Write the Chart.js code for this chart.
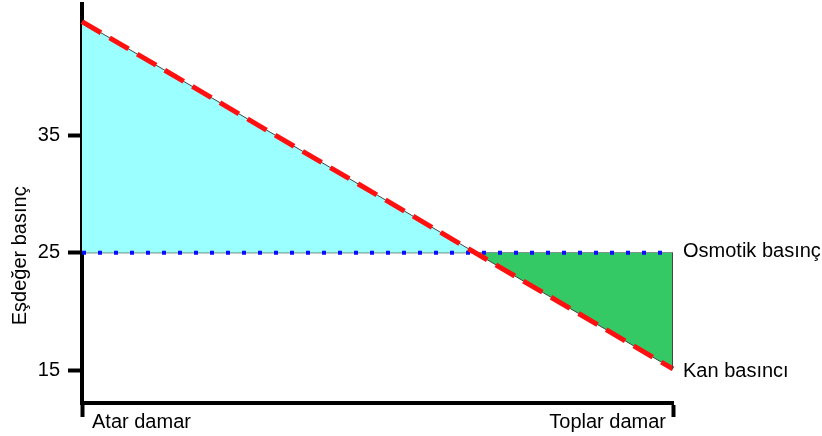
<!DOCTYPE html>
<html>
<head>
<meta charset="utf-8">
<script src="https://cdn.jsdelivr.net/npm/chart.js@4"></script>
<style>
  html, body { margin: 0; padding: 0; background: #fff; }
</style>
</head>
<body>
<canvas id="chart" width="822" height="436"></canvas>
<script>
// Values
const vessels = ['Atar damar', 'Toplar damar'];
const bloodPressure = [44.7, 15.1];
const osmoticPressure = [25, 25];
const yTicks = [15, 25, 35];
const seriesNames = ['Kan basıncı', 'Osmotik basınç'];
const yTitle = 'Eşdeğer basınç';

const FONT = '"Liberation Sans", Arial, sans-serif';

// line-end labels, axis texts and the right edge of the green area
const annotate = {
    id: 'annotate',
    afterDatasetsDraw(chart) {
        const ctx = chart.ctx;
        const x = chart.scales.x;
        const y = chart.scales.y;
        const last = vessels.length - 1;
        const xl = x.getPixelForValue(0);
        const xr = x.getPixelForValue(last);

        // closing edge of the polygon
        ctx.save();
        ctx.strokeStyle = '#444';
        ctx.lineWidth = 1;
        ctx.beginPath();
        ctx.moveTo(xr - 0.5, y.getPixelForValue(osmoticPressure[last]));
        ctx.lineTo(xr - 0.5, y.getPixelForValue(bloodPressure[last]));
        ctx.stroke();
        ctx.restore();

        ctx.save();
        ctx.font = '20px ' + FONT;
        ctx.fillStyle = '#000';
        ctx.textBaseline = 'middle';
        ctx.textAlign = 'left';
        ctx.fillText(seriesNames[1], xr + 10, y.getPixelForValue(osmoticPressure[last]) - 1);
        ctx.fillText(seriesNames[0], xr + 10, y.getPixelForValue(bloodPressure[last]) + 3);

        // category names beside the end ticks
        ctx.textBaseline = 'alphabetic';
        const base = chart.chartArea.bottom + 25;
        ctx.fillText(vessels[0], xl + 10, base);
        ctx.textAlign = 'right';
        ctx.fillText(vessels[last], xr - 7, base);

        // y axis title, sits near the 25 level
        ctx.textBaseline = 'middle';
        ctx.translate(20, y.getPixelForValue(24.74));
        ctx.rotate(-Math.PI / 2);
        ctx.textAlign = 'center';
        ctx.fillText(yTitle, 0, 0);
        ctx.restore();
    }
};

new Chart(document.getElementById('chart'), {
    type: 'line',
    data: {
        labels: vessels,
        datasets: [
            {
                label: seriesNames[0],
                data: bloodPressure,
                borderColor: '#ff1010',
                borderWidth: 5,
                borderDash: [22, 10],
                pointRadius: 0,
                fill: false
            },
            {
                label: seriesNames[1],
                data: osmoticPressure,
                borderColor: '#0c0cff',
                borderWidth: 4,
                borderDash: [4, 12],
                borderCapStyle: 'butt',
                pointRadius: 0,
                fill: false
            },
            {
                // area between the two curves, with thin outline
                data: bloodPressure,
                borderColor: '#444',
                borderWidth: 1,
                pointRadius: 0,
                fill: { target: 3, above: '#9cffff', below: '#35c965' }
            },
            {
                data: osmoticPressure,
                borderColor: '#444',
                borderWidth: 1,
                pointRadius: 0,
                fill: false
            }
        ]
    },
    options: {
        responsive: false,
        animation: false,
        layout: { padding: { top: 4, right: 149, left: 0, bottom: 0 } },
        plugins: {
            legend: { display: false },
            tooltip: { enabled: false }
        },
        scales: {
            x: {
                type: 'category',
                offset: false,
                border: { display: true, color: '#000', width: 4 },
                grid: {
                    drawOnChartArea: false,
                    drawTicks: true,
                    tickLength: 14,
                    tickWidth: 4,
                    tickColor: '#000'
                },
                ticks: { display: false },
                afterFit(scale) {
                    scale.height = 33;
                    scale.paddingLeft = 0;
                    scale.paddingRight = 0;
                }
            },
            y: {
                min: 12.2,
                max: 46.2,
                border: { display: true, color: '#000', width: 4 },
                grid: {
                    drawOnChartArea: false,
                    drawTicks: true,
                    tickLength: 14,
                    tickWidth: 4,
                    tickColor: '#000'
                },
                ticks: {
                    padding: 8,
                    color: '#000',
                    font: { family: FONT, size: 20 }
                },
                afterBuildTicks(scale) {
                    scale.ticks = yTicks.map(v => ({ value: v }));
                },
                afterFit(scale) {
                    scale.width = 82;
                    scale.paddingTop = 0;
                    scale.paddingBottom = 0;
                }
            }
        }
    },
    plugins: [annotate]
});
</script>
</body>
</html>
